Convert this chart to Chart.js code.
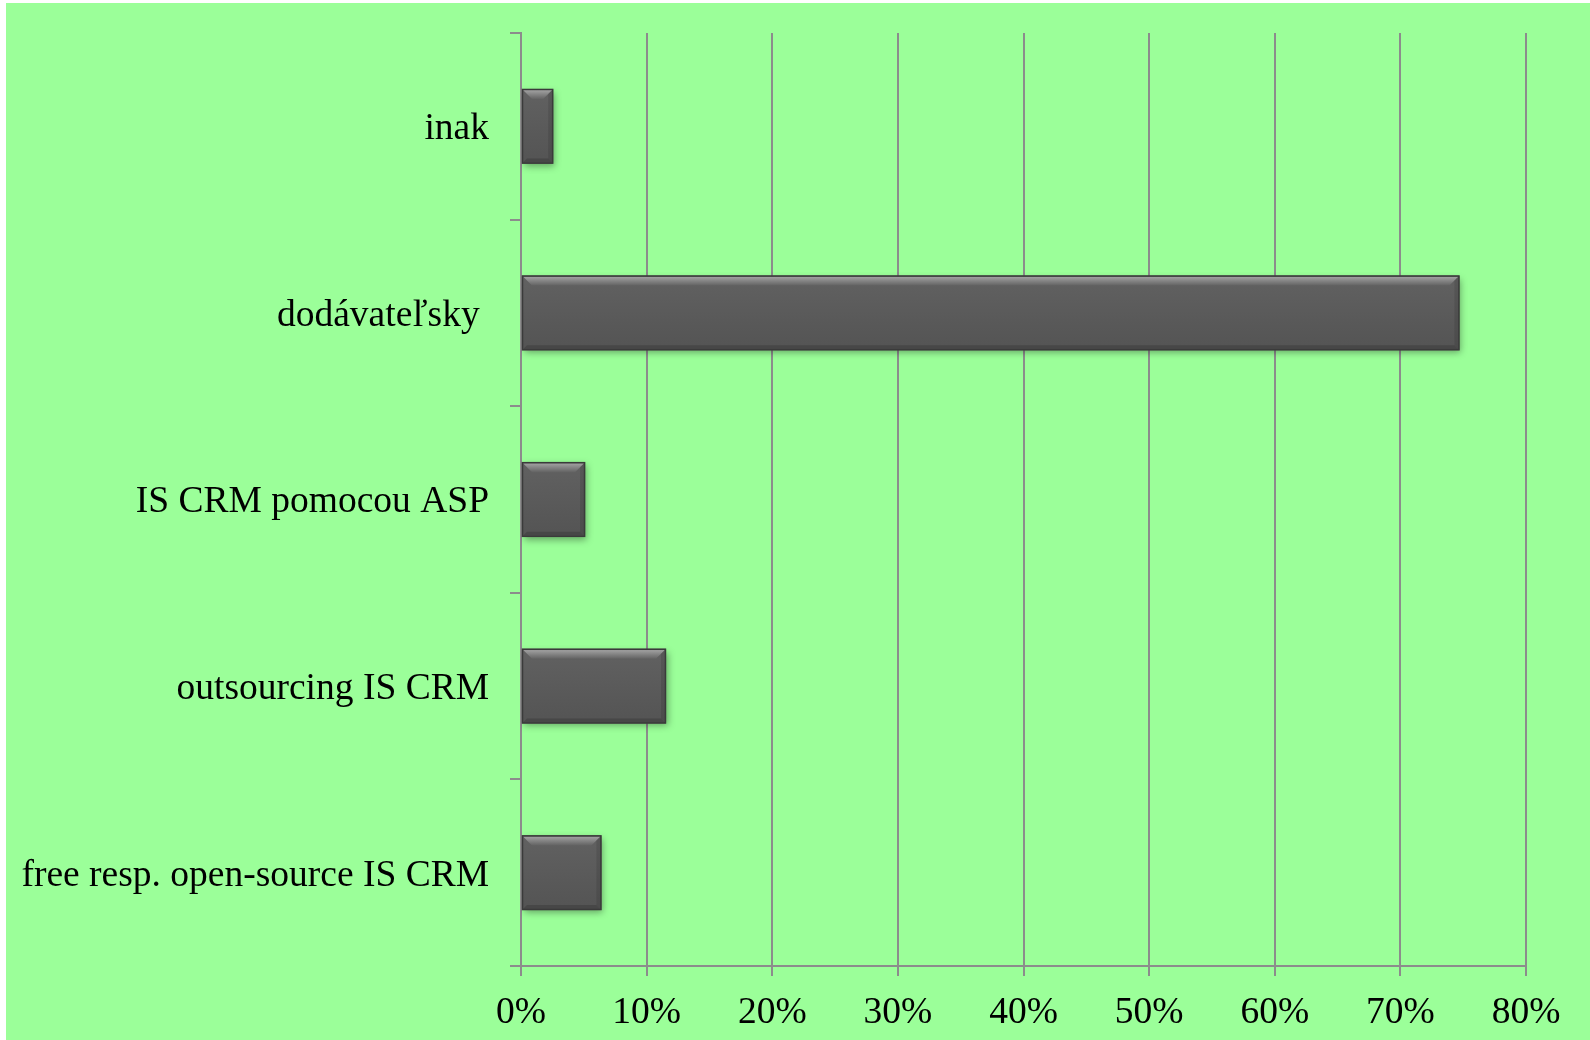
<!DOCTYPE html>
<html>
<head>
<meta charset="utf-8">
<script src="https://cdn.jsdelivr.net/npm/chart.js@4"></script>
<style>
html,body{margin:0;padding:0;background:#ffffff;}
#c{display:block;}
</style>
</head>
<body>
<canvas id="c" width="1590" height="1040"></canvas>
<script>
const categories = ['inak', 'dodávateľsky ', 'IS CRM pomocou ASP', 'outsourcing IS CRM', 'free resp. open-source IS CRM'];
const values = [2.56, 74.7, 5.1, 11.54, 6.4];
const axisMin = 0;
const axisMax = 80;
const axisStep = 10;

const GREEN = '#9bff99';
const GRID = '#8c8c8c';

const bgPlugin = {
  id: 'bg',
  beforeDraw(chart) {
    const ctx = chart.ctx;
    ctx.save();
    ctx.fillStyle = '#ffffff';
    ctx.fillRect(0, 0, chart.width, chart.height);
    ctx.fillStyle = GREEN;
    ctx.fillRect(6, 3, chart.width - 6, chart.height - 3);
    ctx.restore();
  }
};

const bevelPlugin = {
  id: 'bevel',
  beforeDatasetDraw(chart) {
    const ctx = chart.ctx;
    ctx.save();
    ctx.shadowColor = 'rgba(0,0,0,0.35)';
    ctx.shadowBlur = 7;
    ctx.shadowOffsetX = 2;
    ctx.shadowOffsetY = 3;
  },
  afterDatasetDraw(chart, args) {
    const ctx = chart.ctx;
    ctx.restore();
    const meta = args.meta;
    meta.data.forEach(el => {
      const p = el.getProps(['x', 'y', 'base', 'height'], true);
      const l = Math.min(p.x, p.base) + 1, r = Math.max(p.x, p.base) - 1;
      const t = p.y - p.height / 2 + 1, b = p.y + p.height / 2 - 1;
      const bv = Math.min(9, (r - l) / 2, (b - t) / 2);
      ctx.save();
      const gb = ctx.createLinearGradient(0, t, 0, b);
      gb.addColorStop(0, '#616161');
      gb.addColorStop(1, '#545454');
      ctx.fillStyle = gb;
      ctx.fillRect(l, t, r - l, b - t);
      const g = ctx.createLinearGradient(0, t, 0, t + bv);
      g.addColorStop(0, '#a3a3a3');
      g.addColorStop(1, '#636363');
      ctx.fillStyle = g;
      ctx.beginPath();
      ctx.moveTo(l, t); ctx.lineTo(r, t); ctx.lineTo(r - bv, t + bv); ctx.lineTo(l + bv, t + bv); ctx.closePath();
      ctx.fill();
      ctx.fillStyle = 'rgba(0,0,0,0.10)';
      ctx.beginPath();
      const rb = Math.min(4, bv);
      ctx.moveTo(r, t); ctx.lineTo(r - rb, t + rb); ctx.lineTo(r - rb, b - rb); ctx.lineTo(r, b); ctx.closePath();
      ctx.fill();
      ctx.fillStyle = '#474747';
      ctx.beginPath();
      const bb = Math.min(4, bv);
      ctx.moveTo(l, b); ctx.lineTo(r, b); ctx.lineTo(r - bb, b - bb); ctx.lineTo(l + bb, b - bb); ctx.closePath();
      ctx.fill();
      ctx.strokeStyle = '#3a3a3a';
      ctx.lineWidth = 1.5;
      ctx.strokeRect(l - 0.5, t - 0.5, r - l + 1, b - t + 1);
      ctx.restore();
    });
  }
};

new Chart(document.getElementById('c'), {
  type: 'bar',
  data: {
    labels: categories,
    datasets: [{
      data: values,
      backgroundColor: '#5b5b5b',
      borderWidth: 0,
      barPercentage: 0.5,
      categoryPercentage: 0.8
    }]
  },
  options: {
    indexAxis: 'y',
    responsive: false,
    devicePixelRatio: 1,
    animation: false,
    layout: { padding: { top: 33, right: 64, left: 0, bottom: 0 } },
    plugins: { legend: { display: false }, tooltip: { enabled: false } },
    scales: {
      x: {
        min: axisMin,
        max: axisMax,
        ticks: {
          stepSize: axisStep,
          callback: v => v + '%',
          color: '#000000',
          font: { family: 'Liberation Serif', size: 37.5 },
          padding: 15,
          maxRotation: 0
        },
        grid: { color: GRID, lineWidth: 2, tickLength: 10, drawTicks: true },
        border: { display: true, color: GRID, width: 2 },
        afterFit(scale) { scale.height = 74; scale.paddingLeft = 0; scale.paddingRight = 0; }
      },
      y: {
        offset: true,
        ticks: {
          color: '#000000',
          font: { family: 'Liberation Serif', size: 37.5 },
          padding: 21,
          labelOffset: 3
        },
        grid: { drawOnChartArea: false, offset: true, color: GRID, lineWidth: 2, tickLength: 11 },
        border: { display: true, color: GRID, width: 2 },
        afterFit(scale) { scale.width = 521; scale.paddingTop = 0; scale.paddingBottom = 0; }
      }
    }
  },
  plugins: [bgPlugin, bevelPlugin]
});
</script>
</body>
</html>
